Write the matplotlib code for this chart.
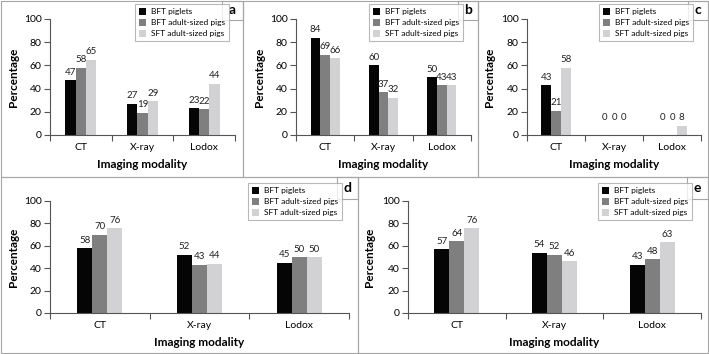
import matplotlib.pyplot as plt
from matplotlib.patches import Rectangle
import numpy as np

plt.rcParams['font.family'] = ['Lato', 'DejaVu Sans']

categories = ['CT', 'X-ray', 'Lodox']
series_names = ['BFT piglets', 'BFT adult-sized pigs', 'SFT adult-sized pigs']
colors = ['#050505', '#7f7f7f', '#d2d2d4']

panel_a = [[47, 27, 23], [58, 19, 22], [65, 29, 44]]
panel_b = [[84, 60, 50], [69, 37, 43], [66, 32, 43]]
panel_c = [[43, 0, 0], [21, 0, 0], [58, 0, 8]]
panel_d = [[58, 52, 45], [70, 43, 50], [76, 44, 50]]
panel_e = [[57, 54, 43], [64, 52, 48], [76, 46, 63]]

W, H = 709, 354
fig = plt.figure(figsize=(W / 100, H / 100), dpi=100)
border = '#a6a6a6'


def fx(x):
    return x / W


def fy(y):
    return 1 - y / H


def box(x0, y0, x1, y1, lw=0.8):
    fig.patches.append(Rectangle((fx(x0), fy(y1)), fx(x1 - x0), (y1 - y0) / H,
                                 transform=fig.transFigure, fill=False,
                                 edgecolor=border, linewidth=lw))


def panel(data, letter, frame, axbox, legbox, letbox, barw, ylab_x, xlab_y):
    box(*frame)
    l, r, t, b = axbox
    ax = fig.add_axes([fx(l), fy(b), fx(r - l), (b - t) / H])
    x = np.arange(len(categories))
    for i, vals in enumerate(data):
        pos = x + (i - 1) * barw
        ax.bar(pos, vals, barw, color=colors[i], label=series_names[i])
        for p, v in zip(pos, vals):
            # zero-height bars get their label lifted a bit, as in the original
            ax.text(p, max(v, 8) + 3, str(v), ha='center', va='bottom', fontsize=7, color='#222222')
    ax.set_xlim(-0.5, 2.5)
    ax.set_ylim(0, 100)
    ax.set_yticks([0, 20, 40, 60, 80, 100])
    ax.set_xticks(x)
    ax.set_xticklabels(categories)
    ax.set_xticks([-0.5, 0.5, 1.5, 2.5], minor=True)
    ax.tick_params(axis='x', which='major', length=0, pad=6, labelsize=7.5)
    ax.tick_params(axis='x', which='minor', length=4, color='#555555', width=0.8)
    ax.tick_params(axis='y', length=4, color='#555555', width=0.8, labelsize=7.5, pad=2)
    for s in ['top', 'right']:
        ax.spines[s].set_visible(False)
    for s in ['left', 'bottom']:
        ax.spines[s].set_color('#555555')
        ax.spines[s].set_linewidth(0.8)
    fig.text(fx(ylab_x), fy((t + b) / 2), 'Percentage', rotation=90, ha='center', va='center',
             fontsize=8.5, fontweight='bold')
    fig.text(fx((l + r) / 2), fy(xlab_y), 'Imaging modality', ha='center', va='center',
             fontsize=8.5, fontweight='bold')
    # legend
    lx0, ly0, lx1, ly1 = legbox
    leg = fig.legend(*ax.get_legend_handles_labels(), loc='upper left',
                     bbox_to_anchor=(fx(lx0), fy(ly0)), fontsize=6, frameon=True,
                     fancybox=False, edgecolor=border, handlelength=0.9, handleheight=0.9,
                     handletextpad=0.6, labelspacing=0.45, borderpad=0.45,
                     borderaxespad=0)
    leg.get_frame().set_linewidth(0.8)
    # letter box
    bx0, by0, bx1, by1 = letbox
    box(bx0, by0, bx1, by1)
    fig.text(fx((bx0 + bx1) / 2), fy((by0 + by1) / 2), letter, ha='center', va='center',
             fontsize=10, fontweight='bold')


panel(panel_a, 'a', (1, 1, 243, 177), (50, 235, 19, 135), (135, 4, 220, 45), (222, 1, 243, 20), 0.167, 13, 165)
panel(panel_b, 'b', (243, 1, 478, 177), (296, 471, 19, 135), (369, 4, 456, 45), (458, 1, 478, 20), 0.167, 259, 165)
panel(panel_c, 'c', (478, 1, 708, 177), (527, 701, 19, 135), (599, 4, 685, 45), (688, 1, 708, 20), 0.167, 490, 165)
panel(panel_d, 'd', (1, 177, 358, 353), (50, 349, 201, 313), (248, 183, 337, 224), (337, 177, 358, 199), 0.15, 13, 343)
panel(panel_e, 'e', (358, 177, 708, 353), (408, 701, 201, 313), (598, 183, 683, 224), (687, 177, 708, 199), 0.153, 369, 343)

fig.savefig('out.png', dpi=100)
